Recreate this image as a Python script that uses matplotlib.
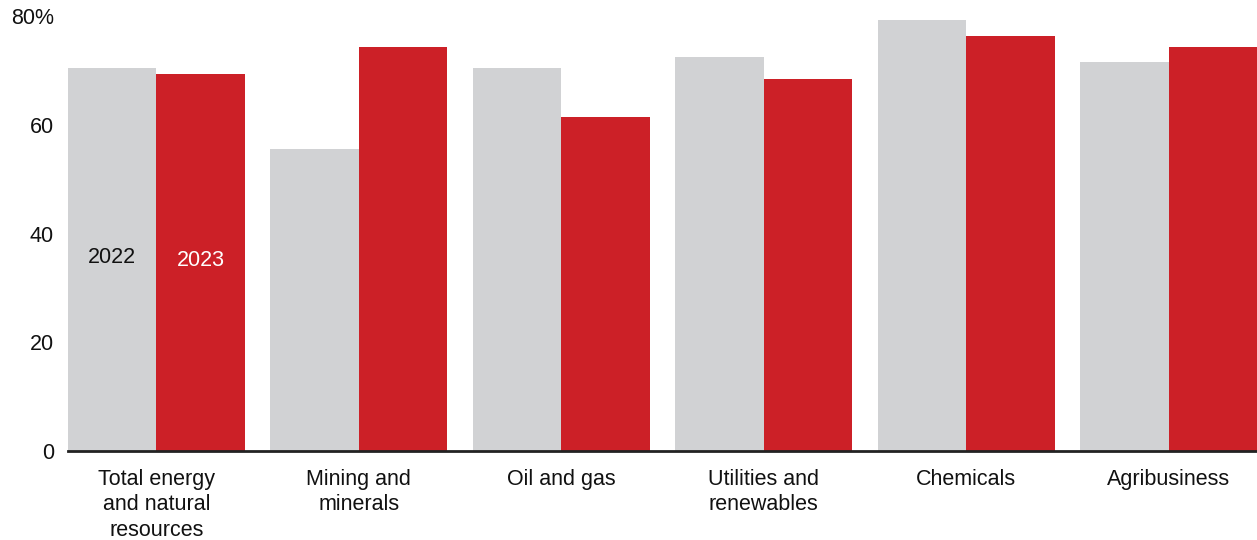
import numpy as np
import matplotlib.pyplot as plt

plt.rcParams['font.family'] = ['Liberation Sans', 'DejaVu Sans']

categories = ['Total energy\nand natural\nresources', 'Mining and\nminerals', 'Oil and gas',
              'Utilities and\nrenewables', 'Chemicals', 'Agribusiness']
vals_2022 = [70.5, 55.6, 70.5, 72.6, 79.4, 71.5]
vals_2023 = [69.4, 74.4, 61.5, 68.5, 76.4, 74.4]
yticks = [0, 20, 40, 60, 80]
ytick_labels = ['0', '20', '40', '60', '80%']

grey = '#D1D2D4'
red = '#CC2027'
w = 0.436

fig = plt.figure(figsize=(12.57, 5.4), dpi=100)
ax = fig.add_axes([68 / 1257, 89 / 540, 1 - 68 / 1257, 434.7 / 540])

x = np.arange(len(categories))
ax.bar(x - w / 2, vals_2022, width=w, color=grey)
ax.bar(x + w / 2, vals_2023, width=w, color=red)

# series labels inside the first pair of bars
ax.text(x[0] - w / 2, 35.6, '2022', ha='center', va='center', fontsize=15.5, color='#111111')
ax.text(x[0] + w / 2, 35.0, '2023', ha='center', va='center', fontsize=15.5, color='white')

ax.set_xlim(-w, len(categories) - 1 + w)
ax.set_ylim(0, 80)
ax.set_yticks(yticks)
ax.set_yticklabels(ytick_labels)
ax.set_xticks(x)
ax.set_xticklabels(categories, linespacing=1.27)
ax.tick_params(axis='both', length=0, labelsize=15.5, colors='#111111')
ax.tick_params(axis='x', pad=13)
ax.tick_params(axis='y', pad=10)

for s in ['top', 'right', 'left']:
    ax.spines[s].set_visible(False)
ax.spines['bottom'].set_linewidth(2)
ax.spines['bottom'].set_color('#222222')

fig.savefig('out.png', dpi=100)
